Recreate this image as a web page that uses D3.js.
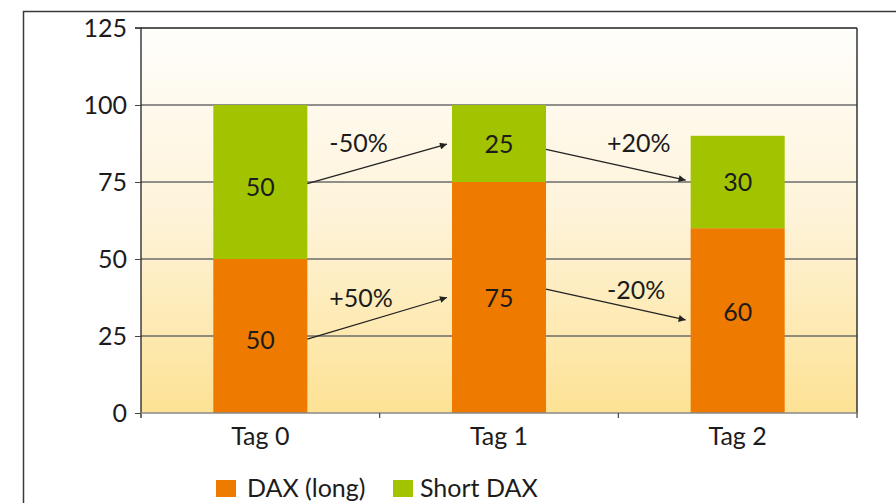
<!DOCTYPE html>
<html>
<head>
<meta charset="utf-8">
<script src="https://cdn.jsdelivr.net/npm/d3@7"></script>
<style>
  body { margin: 0; background: #fff; }
  text { font-family: Lato, "Open Sans", sans-serif; fill: #1c1c1c; }
</style>
</head>
<body>
<script>
// data
var tags = ["Tag 0", "Tag 1", "Tag 2"];
var daxLong = [50, 75, 60];
var shortDax = [50, 25, 30];
var yTicks = [0, 25, 50, 75, 100, 125];
var seriesNames = ["DAX (long)", "Short DAX"];
// where the value labels sit (in y units)
var longLabelAt = [23.7, 37.5, 32.7];
var shortLabelAt = [73.4, 87.5, 75];
// change arrows between days
var arrowText = ["-50%", "+50%", "+20%", "-20%"];
var arrowFromTag = [0, 0, 1, 1];
var arrowStart = [74.5, 24, 85.6, 40.2];
var arrowEnd = [87.3, 37.5, 75.6, 30.2];
var arrowTextAt = [87.6, 37.3, 87.7, 40];

//Width and height
var w = 896;
var h = 503;
var pLeft = 141, pRight = 857, pTop = 28, pBottom = 413;
var labelDx = [22, 22, 61, 61];
var fs = 25;

var orange = "#ee7a00", green = "#a2c400";

var svg = d3.select("body")
    .append("svg")
    .attr("width", w)
    .attr("height", h);

var defs = svg.append("defs");
var grad = defs.append("linearGradient")
    .attr("id", "bg")
    .attr("x1", 0).attr("y1", 0).attr("x2", 0).attr("y2", 1);
grad.append("stop").attr("offset", "0%").attr("stop-color", "#fffefc");
grad.append("stop").attr("offset", "50%").attr("stop-color", "#fef3d8");
grad.append("stop").attr("offset", "100%").attr("stop-color", "#fde294");

defs.append("marker")
    .attr("id", "head")
    .attr("viewBox", "0 0 10 10")
    .attr("refX", 10).attr("refY", 5)
    .attr("markerWidth", 14).attr("markerHeight", 7)
    .attr("markerUnits", "userSpaceOnUse")
    .attr("orient", "auto")
    .append("path")
    .attr("d", "M0,0L10,5L0,10Z")
    .attr("fill", "#222");

// outer frame
svg.append("path")
    .attr("d", "M23.5," + h + "V11.5H" + w)
    .attr("fill", "none")
    .attr("stroke", "#3a3a3a")
    .attr("stroke-width", 1.5);

var x = d3.scaleBand()
    .domain(tags)
    .range([pLeft, pRight])
    .paddingInner(0.606)
    .paddingOuter(0.303);

var y = d3.scaleLinear()
    .domain([0, 125])
    .range([pBottom, pTop]);

// plot background
svg.append("rect")
    .attr("x", pLeft).attr("y", pTop)
    .attr("width", pRight - pLeft).attr("height", pBottom - pTop)
    .attr("fill", "url(#bg)");

// grid lines
svg.selectAll("line.grid")
    .data(yTicks.filter(function (d) { return d > 0; }))
    .enter()
    .append("line")
    .attr("class", "grid")
    .attr("x1", pLeft).attr("x2", pRight)
    .attr("y1", function (d) { return y(d); })
    .attr("y2", function (d) { return y(d); })
    .attr("stroke", function (d) { return d == 125 ? "#222" : "#6b6b6b"; })
    .attr("stroke-width", 1.5);

// right border
svg.append("line")
    .attr("x1", pRight).attr("x2", pRight)
    .attr("y1", pTop).attr("y2", pBottom)
    .attr("stroke", "#333").attr("stroke-width", 1.5);

// bars
svg.selectAll("rect.long")
    .data(daxLong)
    .enter()
    .append("rect")
    .attr("class", "long")
    .attr("x", function (d, i) { return x(tags[i]); })
    .attr("width", x.bandwidth())
    .attr("y", function (d) { return y(d); })
    .attr("height", function (d) { return y(0) - y(d); })
    .attr("fill", orange);

svg.selectAll("rect.short")
    .data(shortDax)
    .enter()
    .append("rect")
    .attr("class", "short")
    .attr("x", function (d, i) { return x(tags[i]); })
    .attr("width", x.bandwidth())
    .attr("y", function (d, i) { return y(daxLong[i] + d); })
    .attr("height", function (d) { return y(0) - y(d); })
    .attr("fill", green);

// value labels
svg.selectAll("text.vlong")
    .data(daxLong)
    .enter()
    .append("text")
    .attr("class", "vlong")
    .attr("x", function (d, i) { return x(tags[i]) + x.bandwidth() / 2; })
    .attr("y", function (d, i) { return y(longLabelAt[i]); })
    .attr("dy", "0.36em")
    .attr("text-anchor", "middle")
    .attr("font-size", fs)
    .text(function (d) { return d; });

svg.selectAll("text.vshort")
    .data(shortDax)
    .enter()
    .append("text")
    .attr("class", "vshort")
    .attr("x", function (d, i) { return x(tags[i]) + x.bandwidth() / 2; })
    .attr("y", function (d, i) { return y(shortLabelAt[i]); })
    .attr("dy", "0.36em")
    .attr("text-anchor", "middle")
    .attr("font-size", fs)
    .text(function (d) { return d; });

// arrows
arrowText.forEach(function (t, i) {
    var from = tags[arrowFromTag[i]], to = tags[arrowFromTag[i] + 1];
    var x1 = x(from) + x.bandwidth();
    var x2 = x(to) - 5;
    svg.append("line")
        .attr("x1", x1).attr("y1", y(arrowStart[i]))
        .attr("x2", x2).attr("y2", y(arrowEnd[i]))
        .attr("stroke", "#222")
        .attr("stroke-width", 1.3)
        .attr("marker-end", "url(#head)");
    svg.append("text")
        .attr("x", x1 + labelDx[i])
        .attr("y", y(arrowTextAt[i]))
        .attr("dy", "0.36em")
        .attr("font-size", fs)
        .text(t);
});

// y axis
var yAxis = svg.append("g")
    .attr("transform", "translate(" + pLeft + ",0)")
    .call(d3.axisLeft(y).tickValues(yTicks).tickSize(6).tickPadding(8));
yAxis.select(".domain").attr("stroke", "#222").attr("stroke-width", 1.3)
    .attr("d", "M-6," + pTop + "H0V" + (pBottom + 5));
yAxis.selectAll(".tick line").attr("stroke", "#444");
yAxis.selectAll(".tick text")
    .attr("font-size", fs)
    .attr("font-family", "Lato, sans-serif")
    .attr("fill", "#1c1c1c");

// x axis
svg.append("line")
    .attr("x1", pLeft).attr("x2", pRight)
    .attr("y1", pBottom).attr("y2", pBottom)
    .attr("stroke", "#888").attr("stroke-width", 1.5);
var bounds = tags.map(function (t) { return x(t) + x.bandwidth() / 2 + x.step() / 2; });
svg.selectAll("line.xt")
    .data(bounds)
    .enter()
    .append("line")
    .attr("class", "xt")
    .attr("x1", function (d) { return d; }).attr("x2", function (d) { return d; })
    .attr("y1", pBottom).attr("y2", pBottom + 5)
    .attr("stroke", "#444").attr("stroke-width", 1.2);
svg.selectAll("text.xl")
    .data(tags)
    .enter()
    .append("text")
    .attr("class", "xl")
    .attr("x", function (d) { return x(d) + x.bandwidth() / 2; })
    .attr("y", pBottom + 32)
    .attr("text-anchor", "middle")
    .attr("font-size", fs)
    .text(function (d) { return d; });

// legend
var legX = [216, 393];
var leg = svg.selectAll("g.leg")
    .data(seriesNames)
    .enter()
    .append("g")
    .attr("class", "leg")
    .attr("transform", function (d, i) { return "translate(" + legX[i] + ",480)"; });
leg.append("rect")
    .attr("width", 20).attr("height", 17)
    .attr("fill", function (d, i) { return i == 0 ? orange : green; });
leg.append("text")
    .attr("x", function (d, i) { return i == 0 ? 31 : 27; })
    .attr("y", 17)
    .attr("font-size", fs)
    .text(function (d) { return d; });
</script>
</body>
</html>
